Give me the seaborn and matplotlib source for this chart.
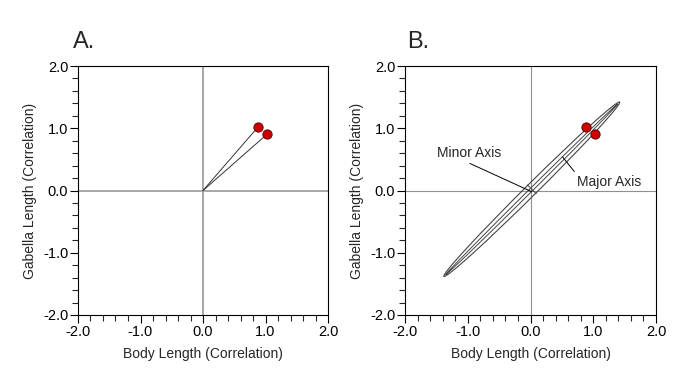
import seaborn as sns
import matplotlib.pyplot as plt
from matplotlib.patches import Ellipse
from matplotlib.ticker import MultipleLocator
import pandas as pd

# variable loadings (body length, gabella length)
var_names = ["Body Length", "Gabella Length"]
x_load = [0.88, 1.02]
y_load = [1.02, 0.90]

# ellipse of panel B: centre, total length along 45 deg, widths
ell_center = (0.02, 0.02)
ell_length = 3.96
ell_width = 0.18
inner_width = 0.05
ell_angle = 45

tick_vals = [-2.0, -1.0, 0.0, 1.0, 2.0]
tick_labels = ["-2.0", "-1.0", "0.0", "1.0", "2.0"]

df = pd.DataFrame({"var": var_names, "x": x_load, "y": y_load})

sns.set_style("white")
plt.rcParams['font.family'] = ['Liberation Sans', 'DejaVu Sans']

fig = plt.figure(figsize=(6.84, 3.80), dpi=100)
axA = fig.add_axes([78/684, 1 - 315/380, 250/684, 249/380])
axB = fig.add_axes([405/684, 1 - 315/380, 251/684, 249/380])


def style_axes(ax, zero_lw, zero_col):
    ax.set_xlim(-2, 2)
    ax.set_ylim(-2, 2)
    ax.axhline(0, color=zero_col, lw=zero_lw, zorder=1)
    ax.axvline(0, color=zero_col, lw=zero_lw, zorder=1)
    ax.set_xticks(tick_vals)
    ax.set_xticklabels(tick_labels)
    ax.set_yticks(tick_vals)
    ax.set_yticklabels(tick_labels)
    ax.xaxis.set_minor_locator(MultipleLocator(0.2))
    ax.yaxis.set_minor_locator(MultipleLocator(0.2))
    ax.tick_params(which="major", direction="out", length=6, width=0.8,
                   labelsize=10.5, colors="black", bottom=True, left=True,
                   top=False, right=False, pad=1)
    ax.tick_params(which="minor", direction="out", length=4, width=0.8,
                   bottom=True, left=True, top=False, right=False)
    for s in ax.spines.values():
        s.set_color("black")
        s.set_linewidth(0.8)
    ax.set_xlabel("Body Length (Correlation)", fontsize=10, labelpad=6)
    ax.set_ylabel("Gabella Length (Correlation)", fontsize=10, labelpad=4)


style_axes(axA, 1.3, "#a0a0a0")
style_axes(axB, 0.8, "#909090")

# panel A: vectors from origin
for xi, yi in zip(x_load, y_load):
    axA.plot([0, xi], [0, yi], color="#333333", lw=0.7, zorder=2)
sns.scatterplot(data=df, x="x", y="y", ax=axA, color="#cc0000",
                edgecolor="#550000", linewidth=0.6, s=45, zorder=3, legend=False)

# panel B: ellipse with axes
axB.add_patch(Ellipse(ell_center, ell_length, ell_width, angle=ell_angle,
                      fill=False, ec="#444444", lw=0.8, zorder=2))
axB.add_patch(Ellipse(ell_center, ell_length - 0.08, inner_width, angle=ell_angle,
                      fill=False, ec="#444444", lw=0.7, zorder=2))
axB.plot([-0.05, 0.09], [0.09, -0.05], color="#444444", lw=0.7, zorder=2)
sns.scatterplot(data=df, x="x", y="y", ax=axB, color="#cc0000",
                edgecolor="#550000", linewidth=0.6, s=45, zorder=3, legend=False)

axB.annotate("Minor Axis", xy=(0.02, -0.02), xytext=(-1.49, 0.60),
             fontsize=10, va="center", ha="left",
             arrowprops=dict(arrowstyle="-", color="black", lw=0.7,
                             shrinkA=0, shrinkB=0, relpos=(0.4, 0.0)))
axB.annotate("Major Axis", xy=(0.51, 0.54), xytext=(0.74, 0.14),
             fontsize=10, va="center", ha="left",
             arrowprops=dict(arrowstyle="-", color="black", lw=0.7,
                             shrinkA=0, shrinkB=0, relpos=(0.0, 1.0)))

axA.set_title("A.", loc="left", fontsize=17, x=-0.02, y=1.04)
axB.set_title("B.", loc="left", fontsize=17, x=0.01, y=1.04)

fig.savefig("out.png", dpi=100)
